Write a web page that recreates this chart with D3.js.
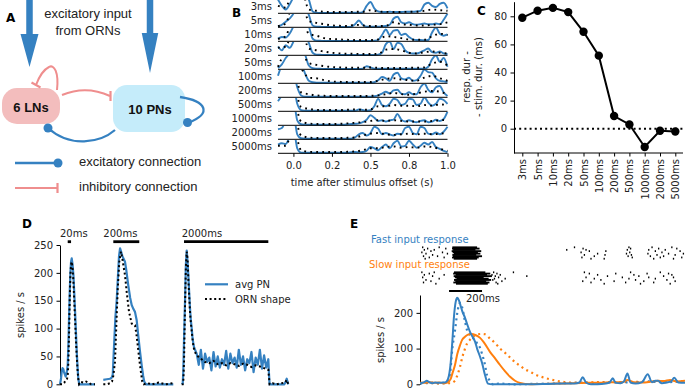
<!DOCTYPE html>
<html><head><meta charset="utf-8">
<script src="https://cdn.jsdelivr.net/npm/d3@7"></script>
<style>body{margin:0;background:#fff}svg{display:block}text{font-family:"DejaVu Sans",sans-serif;font-size:10px;fill:#222}</style>
</head><body><svg id="c" width="685" height="390"></svg>
<script>
// ================= DATA =================
// Panel B
const bRows = ['3ms','5ms','10ms','20ms','50ms','100ms','200ms','500ms','1000ms','2000ms','5000ms'];
const bT = [-0.1,-0.075,-0.05,-0.025,0,0.025,0.05,0.075,0.1,0.125,0.15,0.175,0.2,0.225,0.25,0.275,0.3,0.325,0.35,0.375,0.4,0.425,0.45,0.475,0.5,0.525,0.55,0.575,0.6,0.625,0.65,0.675,0.7,0.725,0.75,0.775,0.8,0.825,0.85,0.875,0.9,0.925,0.95,0.975,1.0];
const bPN = [
 [110,60,30,70,130,200,200,160,110,15,5,3,3,3,3,3,4,4,5,4,5,5,10,60,90,40,15,10,10,12,10,10,10,12,12,12,15,20,70,85,60,50,75,85,40],
 [5,20,45,70,110,200,200,170,100,15,5,4,3,3,3,3,3,3,3,5,25,55,20,5,5,5,5,8,10,20,70,85,40,30,40,25,20,25,30,25,25,30,25,60,110],
 [20,35,30,60,120,200,200,180,120,20,5,4,3,3,3,3,3,3,3,3,3,3,3,3,3,5,10,50,95,50,85,90,50,60,35,15,10,10,8,10,70,110,60,45,55],
 [70,40,80,60,110,200,200,170,100,20,5,4,3,3,3,3,3,3,3,3,3,3,3,3,3,3,5,20,90,110,50,100,90,40,20,15,15,25,40,55,25,20,30,15,10],
 [10,40,90,130,200,200,170,120,30,8,5,4,3,3,3,3,3,3,3,3,3,3,5,25,15,5,5,5,5,5,5,5,5,5,5,5,5,5,5,20,80,110,60,90,20],
 [60,150,200,200,200,200,170,80,20,8,5,5,5,5,5,5,5,5,5,5,5,5,5,5,5,8,25,50,40,20,70,85,40,30,45,20,25,60,110,90,85,40,20,15,10],
 [200,200,200,200,200,80,15,5,4,4,4,4,4,4,4,4,4,4,4,4,4,4,4,4,5,8,15,30,45,30,55,60,30,25,40,25,25,80,110,60,40,80,90,40,10],
 [80,130,200,200,200,60,10,5,4,4,4,4,4,4,4,4,4,4,4,5,5,15,10,5,8,40,100,50,40,60,100,90,50,60,100,95,50,60,110,70,45,60,100,90,60],
 [200,200,200,200,200,40,8,5,4,4,4,4,4,4,4,4,5,5,8,10,12,15,25,45,80,60,35,40,30,40,45,90,45,30,40,30,25,35,40,25,30,45,35,50,110],
 [80,90,150,200,200,40,8,5,5,5,5,5,5,5,5,5,5,5,5,5,15,40,50,30,50,100,85,40,50,40,30,45,40,90,100,50,40,100,90,45,40,55,40,60,100],
 [70,80,75,130,200,40,5,4,4,4,4,4,4,4,4,4,4,4,4,8,10,8,10,20,50,40,25,50,70,40,80,100,55,60,100,70,45,60,85,70,90,50,35,20,10]
];
const bOrnT = [-0.1,-0.05,0,0.05,0.1,0.15,0.2,0.25,0.3,0.35,0.4,0.45,0.5,0.55,0.6,0.65,0.7,0.75,0.8,0.85,0.9,0.95,1.0];
const bORN = [
 [60,45,200,200,30,20,12,10,10,10,12,12,25,15,12,10,10,12,12,20,30,25,20],
 [10,30,200,200,50,35,25,15,12,10,20,15,10,10,12,40,25,20,15,15,20,25,40],
 [20,40,200,200,60,45,25,18,15,12,10,10,10,15,40,35,25,15,12,12,40,60,50],
 [60,70,200,200,55,40,30,20,15,12,12,10,10,12,45,50,40,20,15,25,30,20,15],
 [20,150,200,150,50,35,25,18,15,12,12,12,15,12,10,10,10,12,12,15,45,60,30],
 [200,200,200,120,45,40,25,15,12,10,10,10,10,20,35,40,30,25,20,45,60,40,20],
 [200,200,200,40,25,15,12,10,10,10,10,10,12,15,25,35,25,20,30,45,50,45,20],
 [200,200,200,35,20,12,10,10,10,12,15,12,15,40,40,50,45,45,40,50,45,55,50],
 [200,200,200,30,15,10,10,10,12,15,20,25,35,40,35,40,35,30,30,30,35,40,45],
 [200,200,200,30,15,10,10,10,10,12,15,30,45,50,40,35,40,45,40,45,40,45,50],
 [60,60,200,25,12,10,10,10,10,12,15,25,40,40,50,55,45,50,45,55,50,35,20]
];
const bTicks = [0,0.25,0.5,0.75,1.0];
const bTickLabels = ['0.0','0.2','0.5','0.8','1.0'];

// Panel C
const cLabels = ['3ms','5ms','10ms','20ms','50ms','100ms','200ms','500ms','1000ms','2000ms','5000ms'];
const cValues = [79,84,86,83,69,52,9,3,-13,-1.5,-2];
const cTicks = [0,20,40,60,80];

// Panel D (time in ms from stimulus onset, rate in spikes/s)
const dDur = [20,200,2000];
const dLabels = ['20ms','200ms','2000ms'];
const d1T = [-46,-40,-36,-31,-26,-22,-17,-12,-8,-4,0,4,8,12,16,20,24,29,34,39,44,49,54,59,63,69,80,100,120,140,163];
const d1PN = [0,10,22,29,27,22,18,14,18,25,35,70,120,165,200,220,226,215,197,165,131,95,59,30,11,0,0,0,0,0,0];
const d1OT = [-46,-30,-20,-12,-4,0,4,8,12,16,20,24,29,34,39,44,49,54,59,63,68,80,95,110,125,140,163];
const d1ORN = [0,0,3,8,10,15,40,90,150,195,215,220,208,185,150,115,80,50,25,10,0,4,3,5,3,0,0];
const d2T = [-77,-50,-25,-12,-4,0,8,16,26,36,44,52,60,70,80,90,100,115,130,142,155,167,180,192,205,218,230,238,252,300,350,400,462];
const d2PN = [8,9,10,12,18,40,80,120,150,195,230,244,238,230,225,220,205,178,155,142,135,130,115,88,60,35,15,5,0,0,0,0,0];
const d2OT = [-77,-50,-25,-10,0,13,24,34,46,59,70,80,90,103,121,142,155,167,178,188,205,223,235,260,300,350,400,462];
const d2ORN = [0,0,2,5,15,40,110,170,220,238,225,210,196,166,130,109,107,106,90,70,35,5,0,2,0,3,0,2];
const d3T = [-55,-30,-17,0,24,44,64,84,102,122,142,162,183,200,221,240,261,300,350,400,450,500,550,600,650,700,750,800,850,900,950,1000,1050,1100,1150,1200,1250,1300,1350,1400,1450,1500,1550,1600,1650,1700,1750,1800,1850,1900,1950,2000,2015,2030,2100,2200,2300,2380,2410,2437,2460,2474];
const d3PN = [0,2,23,80,150,215,240,220,196,165,136,115,100,85,73,66,62,55,35,62,28,55,40,48,25,58,32,50,30,45,35,60,28,55,38,48,30,62,35,50,25,45,38,58,22,48,35,62,28,52,30,45,20,0,0,0,0,0,4,10,3,0];
const d3OT = [-55,-30,-17,0,24,44,64,84,102,122,142,162,183,200,221,240,261,300,400,500,600,700,800,900,1000,1100,1200,1300,1400,1500,1600,1700,1800,1900,2000,2030,2100,2200,2300,2400,2437,2474];
const d3ORN = [0,0,5,40,140,210,238,225,190,160,130,110,95,82,70,62,58,52,46,40,38,42,36,38,34,38,36,33,37,35,31,34,32,29,26,0,2,0,2,3,8,0];
const dTicks = [0,50,100,150,200,250];

// Panel E (time in ms from stimulus onset)
const eFastT = [-175,-150,-135,-120,-100,-85,-60,-40,-20,-6,10,20,30,40,50,60,70,80,97,110,127,140,158,170,188,200,218,236,260,300,400,500,600,700,760,790,810,830,860,900,950,975,992,1010,1040,1060,1081,1100,1130,1170,1204,1230,1250,1267,1290,1320,1345,1365,1390,1430];
const eFastPN = [3,6,10,6,3,5,4,5,6,15,60,120,190,230,242,235,220,205,186,168,147,135,119,100,77,60,26,2,0,0,0,0,1,2,2,5,20,5,0,0,2,6,17,4,3,8,30,5,2,6,28,6,10,10,3,5,8,18,5,4];
const eFastInT = [-175,-150,-120,-100,-60,-30,-10,6,20,36,50,67,80,97,110,127,140,158,170,188,200,218,230,248,266,300,400,500,600,700,800,900,1000,1100,1200,1300,1430];
const eFastIn = [2,4,3,5,3,4,8,30,100,150,200,228,215,175,150,138,132,124,115,102,85,54,25,10,0,2,0,1,2,3,4,3,6,5,8,6,8];
const eSlowT = [-175,-150,-120,-90,-60,-30,-10,10,20,36,50,67,80,97,115,138,160,188,210,248,280,309,340,370,400,430,491,550,650,750,850,950,1000,1050,1081,1120,1170,1220,1267,1300,1340,1380,1430];
const eSlowPN = [5,4,6,4,5,3,5,15,30,54,85,110,125,133,139,141,138,130,118,91,72,54,36,21,10,4,0,1,2,3,4,5,6,6,12,6,5,7,10,9,12,8,10];
const eSlowInT = [-175,-150,-100,-50,-10,6,36,50,67,80,97,110,127,150,176,200,218,248,280,309,340,370,400,430,460,491,520,552,580,612,640,673,733,800,900,1000,1100,1200,1300,1430];
const eSlowIn = [3,4,3,2,3,3,10,25,50,75,100,115,125,135,140,141,140,128,115,100,88,75,62,52,42,35,28,22,18,14,11,8,5,5,6,6,7,7,8,8];
const eTicks = [0,100,200];
// raster: burst [start,end] per neuron and sparse spikes per neuron
const fastBurst = [[20,170],[18,185],[25,160],[16,195],[22,175],[30,190],[20,165],[24,200],[18,180],[28,170]];
const fastSpikes = [[-160,-60,760,1090,1230,1350],[-130,-20,812,1100,1270,1380],[-150,-90,713,830,1080,1210,1310],[-110,850,950,1250,1400],[-165,-40,800,1095,1290],[-140,-10,900,1075,1205,1330,1420],[-100,820,945,1105,1260,1370],[-155,-70,880,1085,1220,1300],[-120,-30,805,1110,1280,1410],[-145,860,940,1240,1360]];
const slowBurst = [[30,220],[25,250],[40,230],[28,260],[35,210],[45,240],[30,255],[38,225],[26,245],[42,235]];
const slowSpikes = [[-165,-90,270,390,820,1100,1280],[-120,290,850,1010,1200,1330],[-150,-30,260,310,900,1120,1350],[-100,280,471,960,1150,1300],[-160,300,830,1050,1210,1360],[-60,275,340,880,1090,1250],[-140,265,920,1130,1320],[-110,320,810,1000,1180,1370],[-155,285,860,1070,1240],[-80,295,940,1160,1340]];

// ================= DRAW =================
const BLUE = '#3581c1', ORANGE = '#ff7f0e', PINK = '#ef8e8e';
const svg = d3.select('#c');
const defs = svg.append('defs');
const zip = (xs, ys) => xs.map((x, i) => [x, ys[i]]);

function letter(x, y, s) {
  svg.append('text').attr('x', x).attr('y', y).text(s)
    .style('font-weight', 'bold').style('font-size', '12px').style('fill', '#000');
}

// ----- Panel A -----
const gA = svg.append('g');
letter(6, 22, 'A');
function arrow(x, tip, headLen, headW, shaftW) {
  const p = d3.path();
  p.moveTo(x - shaftW / 2, 0); p.lineTo(x + shaftW / 2, 0);
  p.lineTo(x + shaftW / 2, tip - headLen); p.lineTo(x + headW / 2, tip - headLen);
  p.lineTo(x, tip); p.lineTo(x - headW / 2, tip - headLen);
  p.lineTo(x - shaftW / 2, tip - headLen); p.closePath();
  gA.append('path').attr('d', p.toString()).attr('fill', BLUE);
}
arrow(29.5, 67, 33, 18, 6.5);
arrow(150, 73, 40, 16.5, 6.5);
const aFont = '"Liberation Sans", Arial, sans-serif';
gA.append('text').attr('x', 88).attr('y', 18).attr('text-anchor', 'middle').text('excitatory input')
  .style('font-family', aFont).style('font-size', '13px');
gA.append('text').attr('x', 88).attr('y', 35).attr('text-anchor', 'middle').text('from ORNs')
  .style('font-family', aFont).style('font-size', '13px');
gA.append('rect').attr('x', 2).attr('y', 88).attr('width', 58).attr('height', 36).attr('rx', 15).attr('fill', '#f3bdbd');
gA.append('rect').attr('x', 113).attr('y', 85).attr('width', 72).attr('height', 47).attr('rx', 14).attr('fill', '#c5ecfa');
gA.append('text').attr('x', 31).attr('y', 112).attr('text-anchor', 'middle').text('6 LNs')
  .style('font-family', aFont).style('font-size', '13px').style('font-weight', 'bold').style('fill', '#111');
gA.append('text').attr('x', 150).attr('y', 114).attr('text-anchor', 'middle').text('10 PNs')
  .style('font-family', aFont).style('font-size', '13px').style('font-weight', 'bold').style('fill', '#111');
const conn = (d, c, w) => gA.append('path').attr('d', d).attr('fill', 'none').attr('stroke', c).attr('stroke-width', w);
// LN self inhibition
conn('M57,90 C59,72 54,64 49,67 C43,70 39,77 36,85', PINK, 2);
conn('M31.5,82.5 L40.5,87.5', PINK, 2.2);
// LN -> PN inhibition
conn('M62,95 Q86,85 110,96', PINK, 2);
conn('M110.5,91 L110.5,101', PINK, 2.2);
// PN -> LN excitation
conn('M115,130 C100,143 70,148 48,128', BLUE, 2.3);
gA.append('circle').attr('cx', 48).attr('cy', 128).attr('r', 4.5).attr('fill', BLUE);
// PN self excitation
conn('M180,97 C206,101 213,113 188,123', BLUE, 2.3);
gA.append('circle').attr('cx', 187.5).attr('cy', 122.5).attr('r', 4.5).attr('fill', BLUE);
// legend
conn('M15,163 L57,163', BLUE, 2.3);
gA.append('circle').attr('cx', 58).attr('cy', 163).attr('r', 4.5).attr('fill', BLUE);
conn('M15,188 L57,188', PINK, 2.2);
conn('M57.5,183 L57.5,193', PINK, 2.2);
gA.append('text').attr('x', 79).attr('y', 166).text('excitatory connection').style('font-family', aFont).style('font-size', '13px');
gA.append('text').attr('x', 79).attr('y', 191).text('inhibitory connection').style('font-family', aFont).style('font-size', '13px');

// ----- Panel B -----
letter(232, 17, 'B');
const bx = d3.scaleLinear().domain([-0.1, 1.0]).range([278, 447.5]);
const bBand = d3.scaleBand().domain(bRows).range([-0.7, 153.3]);
const bv = d3.scaleLinear().domain([0, 100]).range([0, 12.5]);
const gB = svg.append('g');
bRows.forEach((r, i) => {
  const base = bBand(r) + bBand.bandwidth();
  const id = 'clipB' + i;
  defs.append('clipPath').attr('id', id).append('rect')
    .attr('x', bx(-0.1) - 1).attr('y', base - 13.4).attr('width', bx(1) - bx(-0.1) + 3).attr('height', 15);
  const g = gB.append('g').attr('clip-path', `url(#${id})`);
  const ln = d3.line().x(d => bx(d[0])).y(d => base - bv(d[1])).curve(d3.curveMonotoneX);
  g.append('path').attr('d', ln(zip(bT, bPN[i]))).attr('fill', 'none').attr('stroke', BLUE).attr('stroke-width', 1.9);
  g.append('path').attr('d', ln(zip(bOrnT, bORN[i]))).attr('fill', 'none').attr('stroke', '#000')
    .attr('stroke-width', 1.9).attr('stroke-dasharray', '1.8,4.2');
  gB.append('line').attr('x1', bx(-0.1)).attr('x2', bx(1)).attr('y1', base).attr('y2', base)
    .attr('stroke', '#000').attr('stroke-width', 1);
  gB.append('text').attr('x', 272).attr('y', base - 3.5).attr('text-anchor', 'end').text(r);
});
const bAxis = gB.append('g').attr('transform', `translate(0,${bBand(bRows[10]) + bBand.bandwidth()})`)
  .call(d3.axisBottom(bx).tickValues(bTicks).tickFormat((d, i) => bTickLabels[i]).tickSize(3.5).tickPadding(5));
bAxis.select('.domain').remove();
bAxis.selectAll('text').style('font-size', '10px').style('font-family', '"DejaVu Sans"').attr('fill', '#222');
gB.append('text').attr('x', 362).attr('y', 186).attr('text-anchor', 'middle').text('time after stimulus offset (s)');

// ----- Panel C -----
letter(477, 15, 'C');
const cx = d3.scalePoint().domain(cLabels).range([522.3, 675.3]);
const cy = d3.scaleLinear().domain([-17.3, 90.4]).range([153, 1.7]);
const gC = svg.append('g');
const cyAx = gC.append('g').attr('transform', 'translate(514,0)')
  .call(d3.axisLeft(cy).tickValues(cTicks).tickSize(3.5).tickSizeOuter(0).tickPadding(3.5));
cyAx.selectAll('text').style('font-size', '10px').style('font-family', '"DejaVu Sans"').attr('fill', '#222');
const cxAx = gC.append('g').attr('transform', 'translate(0,153)')
  .call(d3.axisBottom(cx).tickSize(3.5).tickSizeOuter(0));
cxAx.select('.domain').remove();
gC.append('line').attr('x1', 514).attr('x2', 683).attr('y1', 153).attr('y2', 153).attr('stroke', '#000');
cxAx.selectAll('text').attr('transform', 'rotate(-90)').attr('text-anchor', 'end')
  .attr('x', -6).attr('y', 0).attr('dy', '0.35em')
  .style('font-size', '10px').style('font-family', '"DejaVu Sans"').attr('fill', '#222');
gC.append('line').attr('x1', 514).attr('x2', 683).attr('y1', cy(0)).attr('y2', cy(0))
  .attr('stroke', '#000').attr('stroke-width', 2).attr('stroke-dasharray', '2,3.2');
gC.append('path').attr('d', d3.line().x((d, i) => cx(cLabels[i])).y(d => cy(d))(cValues))
  .attr('fill', 'none').attr('stroke', '#000').attr('stroke-width', 2);
gC.selectAll('circle.c').data(cValues).enter().append('circle')
  .attr('cx', (d, i) => cx(cLabels[i])).attr('cy', d => cy(d)).attr('r', 4.2).attr('fill', '#000');
gC.append('text').attr('transform', 'translate(466,77) rotate(-90)').attr('text-anchor', 'middle').attr('dy', '0.35em').text('resp. dur -');
gC.append('text').attr('transform', 'translate(478,77) rotate(-90)').attr('text-anchor', 'middle').attr('dy', '0.35em').text('- stim. dur. (ms)');

// ----- Panel D -----
letter(22, 228, 'D');
const dy = d3.scaleLinear().domain([0, 250]).range([384.3, 245]);
const dSegX = [
  d3.scaleLinear().domain([-46, 163]).range([60, 95]),
  d3.scaleLinear().domain([-77, 462]).range([103.3, 173.3]),
  d3.scaleLinear().domain([-55, 2474]).range([181.7, 288.3])
];
const dPN = [[d1T, d1PN], [d2T, d2PN], [d3T, d3PN]];
const dORN = [[d1OT, d1ORN], [d2OT, d2ORN], [d3OT, d3ORN]];
const gD = svg.append('g');
const dyAx = gD.append('g').attr('transform', 'translate(60,0)')
  .call(d3.axisLeft(dy).tickValues(dTicks).tickSize(3.5).tickSizeOuter(0).tickPadding(3.5));
dyAx.selectAll('text').style('font-size', '10px').style('font-family', '"DejaVu Sans"').attr('fill', '#222');
gD.append('text').attr('transform', 'translate(20,315) rotate(-90)').attr('text-anchor', 'middle').attr('dy', '0.35em').text('spikes / s');
dSegX.forEach((sx, k) => {
  const ln = d3.line().x(d => sx(d[0])).y(d => dy(d[1])).curve(d3.curveLinear);
  gD.append('path').attr('d', ln(zip(dPN[k][0], dPN[k][1]))).attr('fill', 'none')
    .attr('stroke', BLUE).attr('stroke-width', 2.2).attr('stroke-linejoin', 'round');
  gD.append('path').attr('d', ln(zip(dORN[k][0], dORN[k][1]))).attr('fill', 'none')
    .attr('stroke', '#000').attr('stroke-width', 2).attr('stroke-dasharray', '2,2.6');
  gD.append('line').attr('x1', sx(0)).attr('x2', sx(dDur[k])).attr('y1', 241.7).attr('y2', 241.7)
    .attr('stroke', '#000').attr('stroke-width', 2.8);
  gD.append('text').attr('x', sx.range()[0]).attr('y', 237).text(dLabels[k]);
});
gD.append('line').attr('x1', 205).attr('x2', 228).attr('y1', 284.3).attr('y2', 284.3).attr('stroke', BLUE).attr('stroke-width', 2.2);
gD.append('text').attr('x', 235).attr('y', 288).text('avg PN');
gD.append('line').attr('x1', 205).attr('x2', 228).attr('y1', 299).attr('y2', 299).attr('stroke', '#000').attr('stroke-width', 2).attr('stroke-dasharray', '2,2.6');
gD.append('text').attr('x', 235).attr('y', 303).text('ORN shape');

// ----- Panel E -----
letter(350, 228, 'E');
const ex = d3.scaleLinear().domain([-176, 1430]).range([420, 685]);
const ey = d3.scaleLinear().domain([0, 250]).range([384.3, 295]);
const gE = svg.append('g');
const eyAx = gE.append('g').attr('transform', 'translate(420,0)')
  .call(d3.axisLeft(ey).tickValues(eTicks).tickSize(3.5).tickSizeOuter(0).tickPadding(3.5));
eyAx.selectAll('text').style('font-size', '10px').style('font-family', '"DejaVu Sans"').attr('fill', '#222');
gE.append('text').attr('transform', 'translate(380,340) rotate(-90)').attr('text-anchor', 'middle').attr('dy', '0.35em').text('spikes / s');
defs.append('clipPath').attr('id', 'clipE').append('rect').attr('x', 420).attr('y', 280).attr('width', 266).attr('height', 108);
const gEl = gE.append('g').attr('clip-path', 'url(#clipE)');
const eln = d3.line().x(d => ex(d[0])).y(d => ey(d[1])).curve(d3.curveMonotoneX);
gEl.append('path').attr('d', eln(zip(eSlowInT, eSlowIn))).attr('fill', 'none').attr('stroke', ORANGE).attr('stroke-width', 2.2).attr('stroke-dasharray', '2,3.6');
gEl.append('path').attr('d', eln(zip(eFastInT, eFastIn))).attr('fill', 'none').attr('stroke', BLUE).attr('stroke-width', 2.2).attr('stroke-dasharray', '2,3.6');
gEl.append('path').attr('d', eln(zip(eSlowT, eSlowPN))).attr('fill', 'none').attr('stroke', ORANGE).attr('stroke-width', 2);
gEl.append('path').attr('d', eln(zip(eFastT, eFastPN))).attr('fill', 'none').attr('stroke', BLUE).attr('stroke-width', 2);
// rasters
function raster(top, bursts, spikes) {
  const rowH = 1.27;
  const g = gE.append('g');
  bursts.forEach((b, i) => {
    g.append('rect').attr('x', ex(b[0])).attr('y', top + i * rowH - 0.3).attr('width', ex(b[1]) - ex(b[0]))
      .attr('height', rowH + 0.6).attr('fill', '#000');
  });
  spikes.forEach((s, i) => {
    s.forEach(t => g.append('rect').attr('x', ex(t) - 0.6).attr('y', top + i * rowH - 0.3)
      .attr('width', 1.3).attr('height', 1.8).attr('fill', '#000'));
  });
}
gE.append('text').attr('x', 371).attr('y', 243).text('Fast input response').style('fill', BLUE);
raster(246.7, fastBurst, fastSpikes);
gE.append('text').attr('x', 369).attr('y', 268).text('Slow input response').style('fill', ORANGE);
raster(271.7, slowBurst, slowSpikes);
gE.append('line').attr('x1', ex(0)).attr('x2', ex(200)).attr('y1', 291).attr('y2', 291).attr('stroke', '#000').attr('stroke-width', 2);
gE.append('text').attr('x', 466).attr('y', 302).text('200ms');
</script></body></html>
